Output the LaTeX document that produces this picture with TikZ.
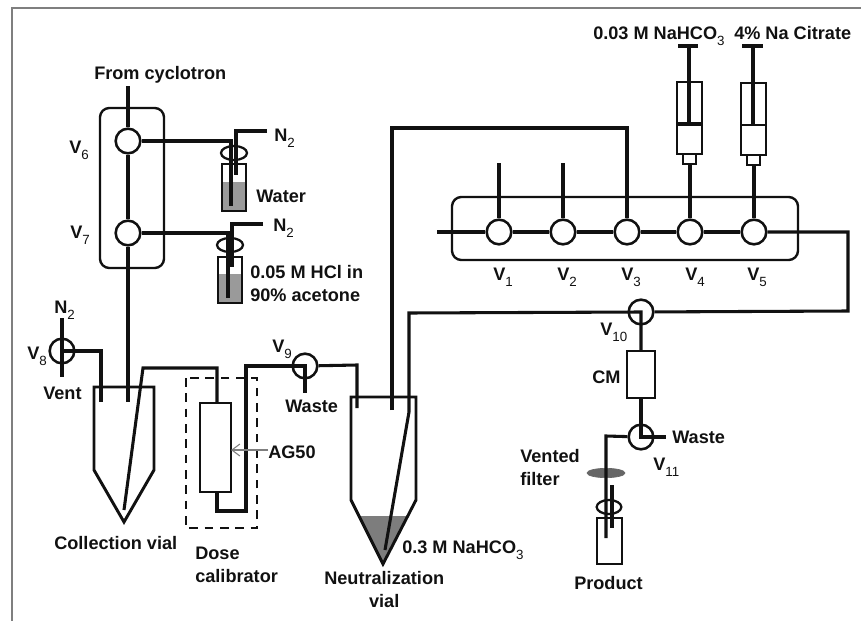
\documentclass[tikz,border=0pt]{standalone}
\usepackage{fontspec}
\setmainfont{Liberation Sans}
\usepackage{xcolor}
\usetikzlibrary{
    arrows.meta,
    positioning,
    shapes.geometric
}
\definecolor{rigink}{HTML}{111111}
\definecolor{rigframe}{HTML}{7F7F7F}
\definecolor{rigliquid}{HTML}{9A9A9A}
\definecolor{rigbase}{HTML}{7D7D7D}
\definecolor{rigfilter}{HTML}{666666}
\newcommand{\sbs}[1]{\raisebox{-0.36em}{\fontsize{10}{10}\selectfont\mdseries #1}}
\tikzset{
    % Text label
    riglabel/.style={
        anchor=base west,
        inner sep=0pt,
        text=rigink,
        align=left,
        font=\fontsize{13.6}{17}\selectfont\bfseries
    },
    % Valve
    valve/.style={
        circle,
        draw=rigink,
        fill=white,
        line width=1.9pt,
        minimum size=18.5pt,
        inner sep=0pt
    },
    % Tubing
    tube/.style={
        draw=rigink,
        line width=2.3pt,
        line join=miter
    },
    % Vessel wall
    wall/.style={
        draw=rigink,
        line width=2.2pt,
        line join=miter
    },
    % Pixel sized box
    pbox/.style 2 args={
        rectangle,
        draw=rigink,
        line width=2pt,
        inner sep=0pt,
        outer sep=0pt,
        minimum width=#1*0.75pt,
        minimum height=#2*0.75pt
    },
    % Manifold block
    manifold/.style={
        draw=rigink,
        line width=1.8pt,
        rounded corners=7pt
    },
    % Cap ring
    capring/.style={
        ellipse,
        draw=rigink,
        line width=1.7pt,
        inner sep=0pt,
        minimum width=19.5pt,
        minimum height=10.5pt
    }
}
\begin{document}
\begin{tikzpicture}[x=0.75pt,y=-0.75pt]
    \useasboundingbox (0,0) rectangle (861,621);
    \draw[rigframe, line width=0.8pt] (861,8) -- (12,8) -- (12,621);

    \draw[manifold] (100,108) rectangle (164,268);
    \draw[manifold] (452,197) rectangle (798,260);

    \node[valve] (v1) at (499,232) {};
    \node[valve] (v2) at (563,232) {};
    \node[valve] (v3) at (627,232) {};
    \node[valve] (v4) at (690,232) {};
    \node[valve] (v5) at (754,232) {};
    \node[valve] (v6) at (128,141) {};
    \node[valve] (v7) at (128,233) {};
    \node[valve] (v8) at (62,351) {};
    \node[valve] (v9) at (305,366) {};
    \node[valve] (v10) at (641,312) {};
    \node[valve] (v11) at (641,437) {};

    \node[riglabel] (l1) at (493,280) {V\sbs{1}};
    \node[riglabel] (l2) at (557,280) {V\sbs{2}};
    \node[riglabel] (l3) at (621,280) {V\sbs{3}};
    \node[riglabel] (l4) at (685,280) {V\sbs{4}};
    \node[riglabel] (l5) at (747,280) {V\sbs{5}};
    \node[riglabel] (l6) at (69,153) {V\sbs{6}};
    \node[riglabel] (l7) at (70,238) {V\sbs{7}};
    \node[riglabel] (l8) at (27,359) {V\sbs{8}};
    \node[riglabel] (l9) at (272,352) {V\sbs{9}};
    \node[riglabel] (l10) at (600,335) {V\sbs{10}};
    \node[riglabel] (l11) at (653,470) {V\sbs{11}};

    \node[riglabel] (cyclotron) at (94,79) {From cyclotron};
    \node[riglabel] (n2a) at (274,141) {N\sbs{2}};
    \node[riglabel] (n2b) at (273,231) {N\sbs{2}};
    \node[riglabel] (n2c) at (54,313) {N\sbs{2}};
    \node[riglabel] (waterlab) at (256,202) {Water};
    \node[riglabel] (hcllab) at (250,301) {0.05 M HCl in\\90\% acetone};
    \node[riglabel] (ventlab) at (43,399) {Vent};
    \node[riglabel] (waste9) at (285,412) {Waste};
    \node[riglabel] (ag50) at (268,458) {AG50};
    \node[riglabel] (colllab) at (54,549) {Collection vial};
    \node[riglabel] (doselab) at (195,582) {Dose\\calibrator};
    \node[riglabel] (baselab) at (402,553) {0.3 M NaHCO\sbs{3}};
    \node[riglabel, align=center] (neutlab) at (324,607) {Neutralization\\vial};
    \node[riglabel] (cmlab) at (592,383) {CM};
    \node[riglabel] (waste11) at (672,443) {Waste};
    \node[riglabel] (filterlab) at (520,485) {Vented\\filter};
    \node[riglabel] (prodlab) at (574,589) {Product};
    \node[riglabel] (naco) at (593,39) {0.03 M NaHCO\sbs{3}};
    \node[riglabel] (citrate) at (734,39) {4\% Na Citrate};

    % Water and HCl vials
    \fill[rigliquid] (222,182) rectangle (246,211);
    \fill[rigliquid] (218,274) rectangle (242,303);
    \node[pbox={24}{47}] (watervial) at (234,187.5) {};
    \node[pbox={24}{46}] (hclvial) at (230,280) {};
    \node[capring] (watercap) at (234,153) {};
    \node[capring] (hclcap) at (230,245) {};
    \coordinate (wateri) at (231,141);
    \coordinate (wateriend) at (231,206);
    \coordinate (watern) at (236,131);
    \coordinate (waternend) at (236,175);
    \coordinate (hcli) at (228,233);
    \coordinate (hcliend) at (228,298);
    \coordinate (hcln) at (232,224);
    \coordinate (hclnend) at (232,267);
    \coordinate (cyctop) at (128,86);
    \coordinate (n2atop) at (267,131);
    \coordinate (n2btop) at (263,224);
    \draw[tube] (cyctop) -- (v6);
    \draw[tube] (v6) -- (v7);
    \draw[tube] (v6) -- (wateri) -- (wateriend);
    \draw[tube] (n2atop) -- (watern) -- (waternend);
    \draw[tube] (v7) -- (hcli) -- (hcliend);
    \draw[tube] (n2btop) -- (hcln) -- (hclnend);

    % Collection vial
    \draw[wall] (94,387) -- (154,387) -- (154,470) -- (124,522) -- (94,470) -- cycle;
    \coordinate (n2ctop) at (62,318);
    \coordinate (ventend) at (62,377);
    \coordinate (v8corner) at (101,351);
    \coordinate (v8end) at (101,402);
    \coordinate (v7end) at (128,402);
    \coordinate (colltip) at (124,510);
    \coordinate (collbend) at (143,368);
    \draw[tube] (n2ctop) -- (ventend);
    \draw[tube] (v8.center) -- (v8corner) -- (v8end);
    \draw[tube] (v7) -- (v7end);

    % Dose calibrator
    \draw[wall, dash pattern=on 6.5pt off 5pt] (186,378) rectangle (257,528);
    \node[pbox={31}{89}, fill=white] (column) at (215.5,447.5) {};
    \coordinate (colin) at (217,368);
    \coordinate (colout) at (217,511);
    \coordinate (colright) at (246,511);
    \coordinate (colup) at (246,366);
    \coordinate (wastepin) at (305,393);
    \draw[tube] (colltip) -- (collbend) -- (colin) -- (colin |- column.north);
    \draw[tube] (colin |- column.south) -- (colout) -- (colright) -- (colup) -- (v9.center) -- (wastepin);
    \draw[rigframe, line width=0.8pt, -{Straight Barb[length=6pt,width=9pt]}] (ag50.west |- 0,450) -- (column.east |- 0,450);

    % Neutralization vial
    \fill[rigbase] (360,516) -- (407,516) -- (383,564) -- cycle;
    \draw[wall] (351,397) -- (416,397) -- (416,500) -- (383,564) -- (351,500) -- cycle;
    \coordinate (v9corner) at (357,365);
    \coordinate (v9end) at (357,408);
    \coordinate (neutshort) at (392,410);
    \coordinate (neuttop) at (392,128);
    \coordinate (v3top) at (627,128);
    \coordinate (neuttip) at (385,550);
    \coordinate (neutbend) at (409,412);
    \coordinate (neutup) at (409,313);
    \draw[tube] (v9) -- (v9corner) -- (v9end);
    \draw[tube] (neutshort) -- (neuttop) -- (v3top) -- (v3);
    \draw[tube] (neuttip) -- (neutbend) -- (neutup) -- (v10.center) -- (v10.center |- 0,351);

    % Valve row
    \coordinate (rowstart) at (437,232);
    \coordinate (rowend) at (848,232);
    \coordinate (rowdown) at (848,311);
    \coordinate (v1top) at (499,163);
    \coordinate (v2top) at (563,163);
    \draw[tube] (rowstart) -- (v1);
    \draw[tube] (v1) -- (v2);
    \draw[tube] (v2) -- (v3);
    \draw[tube] (v3) -- (v4);
    \draw[tube] (v4) -- (v5);
    \draw[tube] (v5) -- (rowend) -- (rowdown) -- (v10);
    \draw[tube] (v1top) -- (v1);
    \draw[tube] (v2top) -- (v2);

    % Syringes
    \node[pbox={25}{72}] (barrel4) at (689.5,118) {};
    \node[pbox={25}{72}] (barrel5) at (753.5,119) {};
    \node[pbox={13}{10}, below=0pt of barrel4] (tip4) {};
    \node[pbox={13}{10}, below=0pt of barrel5] (tip5) {};
    \coordinate (rod4) at (689,46);
    \coordinate (rod5) at (753,46);
    \coordinate (head4) at (689,124);
    \coordinate (head5) at (753,125);
    \draw[tube] (678,46) -- (698,46);
    \draw[tube] (742,46) -- (763,46);
    \draw[tube] (rod4) -- (head4);
    \draw[tube] (rod5) -- (head5);
    \draw[tube] (barrel4.west |- head4) -- (barrel4.east |- head4);
    \draw[wall] (barrel5.west |- head5) -- (barrel5.east |- head5);
    \draw[tube] (tip4.south -| v4) -- (v4);
    \draw[tube] (tip5.south -| v5) -- (v5);

    % Purification line
    \node[pbox={28}{47}, fill=white] (cm) at (641,374.5) {};
    \node[ellipse, fill=rigfilter, draw=rigfilter, line width=0.5pt, inner sep=0pt, minimum width=28.5pt, minimum height=7pt] (filter) at (606,473) {};
    \node[pbox={25}{46}] (prodvial) at (609.5,541) {};
    \node[capring, minimum width=18.5pt] (prodcap) at (609,507) {};
    \coordinate (v11left) at (606,436);
    \coordinate (prodend) at (606,538);
    \coordinate (shorttop) at (612,485);
    \coordinate (shortend) at (612,528);
    \coordinate (wastepin2) at (666,437);
    \draw[tube] (cm.south) -- (v11.center) -- (wastepin2);
    \draw[tube] (v11) -- (v11left) -- (prodend);
    \draw[tube] (shorttop) -- (shortend);
\end{tikzpicture}
\end{document}
